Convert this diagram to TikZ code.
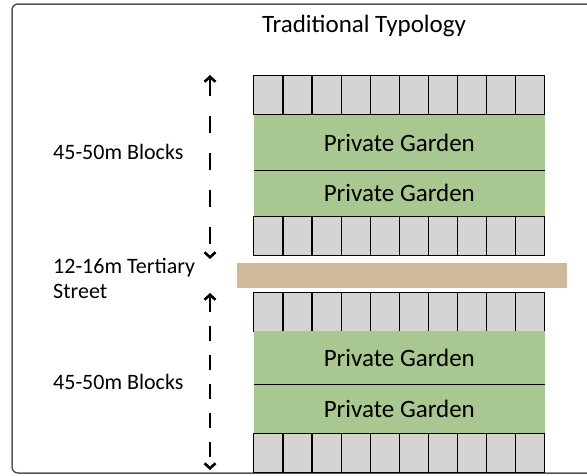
\documentclass[tikz,border=0pt]{standalone}
\usepackage{fontspec}
\setmainfont{Carlito}
\usepackage{tikz}
\usetikzlibrary{
    positioning,
    arrows.meta,
    matrix,
}
\definecolor{housegray}{RGB}{213,212,211}
\definecolor{gardengreen}{RGB}{169,199,144}
\definecolor{streettan}{RGB}{208,185,155}
\definecolor{framegray}{RGB}{85,85,85}
\tikzset{
    % Plan styles
    house cell/.style={rectangle, draw, line width=1.2pt, fill=housegray,
                       minimum width=29.1pt, minimum height=39pt, inner sep=0pt},
    house row/.style={matrix of nodes, nodes in empty cells, nodes={house cell},
                      column sep=-1.2pt, inner sep=0pt, anchor=north west},
    garden/.style={rectangle, fill=gardengreen, minimum width=291pt, inner sep=0pt,
                   anchor=north west, font=\fontsize{25}{27}\selectfont},
    street/.style={rectangle, fill=streettan, minimum width=330pt,
                   minimum height=25pt, inner sep=0pt, anchor=north west},
    % Arrow styles
    dim arrow/.style={{Straight Barb[length=5pt, width=11pt]}-{Straight Barb[length=5pt, width=11pt]},
                      line width=2.6pt},
    % Annotation styles
    annot/.style={font=\fontsize{22}{25}\selectfont, align=left, anchor=west, inner sep=0pt},
}

\begin{document}
\begin{tikzpicture}[
    x=1pt, y=-1pt,
    divider/.style={line width=1pt},
]
    \useasboundingbox (0,0) rectangle (587,475);
    \clip (0,0) rectangle (587,475);

    % Frame
    \draw[framegray, line width=1.5pt, rounded corners=6pt] (12,4) rectangle (640,473);
    \node[font=\fontsize{25}{27}\selectfont] (title) at (364,26) {Traditional Typology};

    % Upper block
    \matrix[house row] (row1) at (253,75) {
        &&&&&&&&& \\
    };
    \node[garden, minimum height=55.5pt] (g1) at (253.6,114.6) {Private Garden};
    \node[garden, minimum height=46pt] (g2) at (253.6,170) {Private Garden};
    \draw[divider] (g1.south west) -- (g1.south east);
    \matrix[house row] (row2) at (253,215.5) {
        &&&&&&&&& \\
    };

    % Street
    \node[street] (street) at (237,263) {};

    % Lower block
    \matrix[house row] (row3) at (253,291.5) {
        &&&&&&&&& \\
    };
    \node[garden, minimum height=53pt] (g3) at (253.6,331) {Private Garden};
    \node[garden, minimum height=48.5pt] (g4) at (253.6,384) {Private Garden};
    \draw[divider] (g3.south west) -- (g3.south east);
    \matrix[house row] (row4) at (253,432.5) {
        &&&&&&&&& \\
    };

    % Dimension arrows
    \coordinate (up1) at (210,75);
    \coordinate (dn1) at (210,259);
    \coordinate (up2) at (210,293);
    \coordinate (dn2) at (210,470);
    \draw[dim arrow, dash pattern=on 17pt off 20pt, dash phase=-12pt] (dn1) -- (up1);
    \draw[dim arrow, dash pattern=on 15pt off 14pt, dash phase=-10pt] (dn2) -- (up2);

    % Labels
    \node[annot] (blocks1) at (53,152) {45-50m Blocks};
    \node[annot] (streetlbl) at (53,278) {12-16m Tertiary\\Street};
    \node[annot] (blocks2) at (53,382) {45-50m Blocks};
\end{tikzpicture}
\end{document}
